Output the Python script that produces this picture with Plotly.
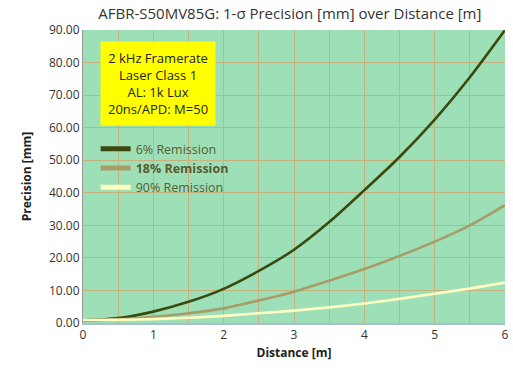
import plotly.graph_objects as go

distance = [0, 0.5, 1, 1.5, 2, 2.5, 3, 3.5, 4, 4.5, 5, 5.5, 6]
rem6 = [0.8, 1.5, 3.5, 6.5, 10.5, 16.0, 22.5, 31.0, 40.8, 51.0, 62.5, 75.5, 90.0]
rem18 = [0.8, 1.1, 1.9, 3.0, 4.5, 6.9, 9.6, 13.0, 16.6, 20.6, 25.0, 30.0, 36.2]
rem90 = [0.9, 1.0, 1.2, 1.6, 2.2, 3.0, 3.8, 4.8, 6.0, 7.4, 9.0, 10.6, 12.4]
names = ["6% Remission", "<b>18% Remission</b>", "90% Remission"]
colors = ["#3B4A0C", "#A89C68", "#FFFFC4"]
y_ticks = [0, 10, 20, 30, 40, 50, 60, 70, 80, 90]
x_ticks = [0, 1, 2, 3, 4, 5, 6]
info_text = "2 kHz Framerate<br>Laser Class 1<br>AL: 1k Lux<br>20ns/APD: M=50"

fig = go.Figure()
for ys, nm, c in zip([rem6, rem18, rem90], names, colors):
    fig.add_trace(go.Scatter(x=distance, y=ys, mode="lines", name=nm,
                             line=dict(color=c, width=2.6, shape="spline", smoothing=0.8)))

grid_c = "#C6B27E"
fig.update_layout(
    width=513, height=373,
    margin=dict(l=83, r=4, t=30, b=50),
    paper_bgcolor="white",
    plot_bgcolor="#9DE0B8",
    font=dict(family="Open Sans, Liberation Sans, sans-serif", size=12, color="#333333"),
    title=dict(text="AFBR-S50MV85G: 1-σ Precision [mm] over Distance [m]",
               x=0.565, xanchor="center", y=0.962, yanchor="middle",
               font=dict(size=15, color="#333333")),
    showlegend=True,
    legend=dict(x=0.03, y=0.645, xanchor="left", yanchor="top",
                bgcolor="rgba(0,0,0,0)", font=dict(size=12.5, color="#5C5A2E"),
                itemwidth=30, tracegroupgap=0, itemsizing="constant"),
    xaxis=dict(range=[0, 6], tickvals=x_ticks, ticktext=[str(v) for v in x_ticks],
               showgrid=True, gridcolor=grid_c, gridwidth=1,
               minor=dict(dtick=0.5, showgrid=True, gridcolor=grid_c, gridwidth=1),
               showline=True, linecolor="#A8BCD4", linewidth=2,
               ticks="", zeroline=False,
               title=dict(text="<b>Distance [m]</b>", font=dict(size=12, color="#222222"), standoff=6),
               tickfont=dict(size=12, color="#333333")),
    yaxis=dict(range=[0, 90], tickvals=y_ticks, ticktext=[f"{v:.2f}" for v in y_ticks],
               showgrid=True, gridcolor=grid_c, gridwidth=1,
               showline=True, linecolor="#999999", linewidth=1,
               ticks="", zeroline=False,
               title=dict(text="<b>Precision [mm]</b>", font=dict(size=12, color="#222222"), standoff=14),
               tickfont=dict(size=12, color="#333333")),
    annotations=[dict(text=info_text, xref="paper", yref="paper", x=0.04, y=0.962,
                      xanchor="left", yanchor="top", showarrow=False, align="center",
                      bgcolor="#FFFF00", borderpad=7,
                      font=dict(size=13, color="#222222"))],
)

fig.write_html("out.html")
